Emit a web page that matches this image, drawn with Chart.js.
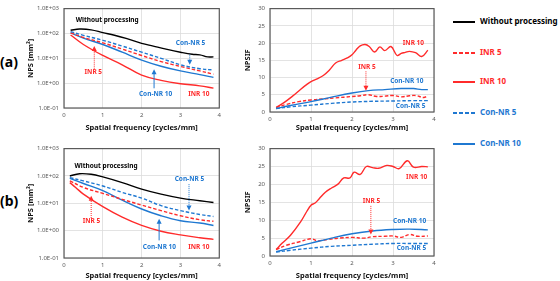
<!DOCTYPE html>
<html>
<head>
<meta charset="utf-8">
<script src="https://cdn.jsdelivr.net/npm/chart.js@4"></script>
<style>
  body { margin: 0; background: #fff; width: 560px; height: 281px; position: relative; overflow: hidden; font-family: "Noto Sans", sans-serif; }
  .box { position: absolute; }
  .tag { position: absolute; left: 0; font-weight: bold; font-size: 14px; line-height: 16px; }
  .leg { position: absolute; left: 453px; font-size: 8px; font-weight: bold; line-height: 10px; height: 10px; white-space: nowrap; }
  .leg span { display: inline-block; width: 22px; height: 2px; margin-right: 5px; vertical-align: middle; }
</style>
</head>
<body>
<div class="tag" style="top:54px">(a)</div>
<div class="tag" style="top:193px">(b)</div>

<div class="box" style="left:20px;top:0;width:205px;height:140px"><canvas id="npsA"></canvas></div>
<div class="box" style="left:235px;top:0;width:205px;height:140px"><canvas id="sifA"></canvas></div>
<div class="box" style="left:20px;top:140px;width:205px;height:141px"><canvas id="npsB"></canvas></div>
<div class="box" style="left:235px;top:140px;width:205px;height:141px"><canvas id="sifB"></canvas></div>

<div id="legend"></div>

<script>
// series names and colours
const names = ["Without processing", "INR 5", "INR 10", "Con-NR 5", "Con-NR 10"];
const RED = "#ff2b2b";
const BLUE = "#1f78d1";

// NPS [mm²], panel (a) — [frequency, value]
const npsA_none = [[0.17,134],[0.4,150],[0.7,140],[1.0,108],[1.3,85],[1.6,63],[2.0,40],[2.3,31],[2.6,24],[3.0,17.6],[3.3,14.5],[3.5,13.8],[3.7,11.4],[3.85,11.4]];
const npsA_inr5 = [[0.17,105],[0.5,69],[1.0,42],[1.5,23.5],[2.0,13],[2.5,7.4],[3.0,4.7],[3.5,3.1],[3.85,2.3]];
const npsA_inr10 = [[0.17,87],[0.5,36],[1.0,13],[1.5,5.5],[2.0,2.1],[2.5,1.3],[3.0,0.95],[3.5,0.78],[3.85,0.63]];
const npsA_con5 = [[0.17,119],[0.5,84],[1.0,53],[1.5,31],[2.0,17.6],[2.5,10],[3.0,5.5],[3.5,3.8],[3.85,3.4]];
const npsA_con10 = [[0.17,105],[0.5,65],[1.0,36],[1.5,17.6],[2.0,8.5],[2.5,4.8],[3.0,3.1],[3.5,2.2],[3.85,1.7]];

// NPS [mm²], panel (b)
const npsB_none = [[0.15,100],[0.4,121],[0.7,115],[1.0,92],[1.5,57],[2.0,33],[2.5,21.6],[3.0,15.5],[3.5,12.4],[3.85,10.7]];
const npsB_inr5 = [[0.15,66],[0.5,38],[1.0,23],[1.5,14],[2.0,8.6],[2.5,5.4],[3.0,3.5],[3.5,2.5],[3.85,2.2]];
const npsB_inr10 = [[0.15,57],[0.3,38],[0.5,21.6],[1.0,7.5],[1.5,3.1],[2.0,1.55],[2.5,0.95],[3.0,0.7],[3.5,0.55],[3.85,0.48]];
const npsB_con5 = [[0.15,87],[0.5,66],[1.0,43],[1.5,25],[2.0,15.5],[2.5,8.2],[3.0,5.4],[3.5,3.9],[3.85,3.3]];
const npsB_con10 = [[0.15,82],[0.5,53],[1.0,29],[1.5,13],[2.0,6.2],[2.5,3.5],[3.0,2.3],[3.5,1.9],[3.85,1.55]];

// NPSIF, panel (a)
const sifA_inr5 = [[0.15,1.3],[0.4,2.2],[0.7,3.0],[1.0,3.5],[1.3,3.8],[1.6,4.1],[2.0,4.5],[2.2,4.7],[2.4,5.0],[2.6,4.5],[2.8,4.6],[3.0,4.8],[3.2,4.4],[3.4,4.7],[3.55,4.8],[3.75,4.2],[3.85,4.8]];
const sifA_inr10 = [[0.15,1.3],[0.35,2.8],[0.55,4.6],[0.75,6.6],[0.9,8.0],[1.0,8.8],[1.15,9.6],[1.3,10.6],[1.45,12.2],[1.6,14.2],[1.75,15.0],[1.9,15.8],[2.0,16.6],[2.1,18.0],[2.2,19.2],[2.32,19.6],[2.42,19.0],[2.55,17.4],[2.68,18.9],[2.8,17.8],[2.95,19.0],[3.1,16.4],[3.2,17.0],[3.3,17.3],[3.4,17.6],[3.55,17.2],[3.7,16.1],[3.85,17.9]];
const sifA_con5 = [[0.15,1.0],[0.5,1.5],[1.0,2.0],[1.5,2.5],[2.0,2.9],[2.5,3.1],[3.0,3.2],[3.5,3.3],[3.85,3.3]];
const sifA_con10 = [[0.15,1.0],[0.5,1.9],[1.0,3.0],[1.5,4.3],[2.0,5.5],[2.4,6.2],[2.8,6.5],[3.2,6.8],[3.5,6.8],[3.7,6.5],[3.85,6.5]];

// NPSIF, panel (b)
const sifB_inr5 = [[0.15,1.8],[0.4,3.0],[0.7,3.9],[1.0,4.8],[1.15,4.3],[1.4,4.6],[1.7,5.0],[2.0,5.2],[2.3,5.0],[2.5,5.4],[2.8,5.5],[3.0,5.6],[3.2,5.2],[3.4,6.0],[3.6,5.5],[3.85,5.6]];
const sifB_inr10 = [[0.15,1.8],[0.3,3.6],[0.5,5.8],[0.75,9.6],[0.9,12.5],[1.0,14.2],[1.1,14.8],[1.2,16.0],[1.35,17.8],[1.5,19.0],[1.65,20.0],[1.8,21.8],[1.95,21.8],[2.05,23.4],[2.2,22.8],[2.35,25.0],[2.5,24.7],[2.65,24.5],[2.85,25.3],[3.0,25.0],[3.15,24.4],[3.35,26.6],[3.5,24.8],[3.7,25.0],[3.85,24.9]];
const sifB_con5 = [[0.15,1.1],[0.5,1.6],[1.0,2.2],[1.5,2.7],[2.0,3.0],[2.5,3.3],[3.0,3.5],[3.5,3.5],[3.85,3.5]];
const sifB_con10 = [[0.15,1.2],[0.5,2.2],[1.0,3.6],[1.5,5.0],[2.0,6.2],[2.5,7.0],[3.0,7.4],[3.4,7.5],[3.85,7.3]];

const logTicks = [0.1, 1, 10, 100, 1000];
const freqTicks = [0, 1, 2, 3, 4];

// frame + text labels + arrows inside each plot
const decor = {
  id: "decor",
  afterDatasetsDraw(chart, args, o) {
    const { ctx, chartArea: a, scales: { x, y } } = chart;
    ctx.save();
    ctx.strokeStyle = "#5a5a5a";
    ctx.lineWidth = 1.2;
    ctx.strokeRect(a.left, a.top, a.width, a.height);
    (o.arrows || []).forEach(r => {
      const px = x.getPixelForValue(r.x);
      const y1 = y.getPixelForValue(r.from), y2 = y.getPixelForValue(r.to);
      const dir = y2 > y1 ? 1 : -1;
      ctx.strokeStyle = r.color;
      ctx.fillStyle = r.color;
      ctx.lineWidth = 1;
      ctx.setLineDash(r.dash || []);
      ctx.beginPath();
      ctx.moveTo(px, y1);
      ctx.lineTo(px, y2 - dir * 4);
      ctx.stroke();
      ctx.setLineDash([]);
      ctx.beginPath();
      ctx.moveTo(px, y2);
      ctx.lineTo(px - 2.5, y2 - dir * 5);
      ctx.lineTo(px + 2.5, y2 - dir * 5);
      ctx.closePath();
      ctx.fill();
    });
    ctx.font = "bold 6.5px 'Noto Sans'";
    ctx.textBaseline = "middle";
    (o.labels || []).forEach(l => {
      ctx.fillStyle = l.color;
      ctx.fillText(l.text, x.getPixelForValue(l.x), y.getPixelForValue(l.y));
    });
    ctx.restore();
  }
};

function line(label, pts, color, dashed) {
  return {
    label, data: pts.map(p => ({ x: p[0], y: p[1] })),
    borderColor: color, borderWidth: 1.4, borderDash: dashed ? [3.5, 2] : [],
    pointRadius: 0, tension: 0.4, fill: false
  };
}

function panel(id, sets, yAxis, yWidth, xHeight, titleBottom, pad, deco) {
  new Chart(document.getElementById(id), {
    type: "line",
    data: { datasets: sets },
    options: {
      responsive: true, maintainAspectRatio: false, animation: false,
      layout: { padding: pad },
      plugins: { legend: { display: false }, tooltip: { enabled: false }, decor: deco },
      scales: {
        x: {
          type: "linear", min: 0, max: 4,
          afterBuildTicks: s => { s.ticks = freqTicks.map(v => ({ value: v })); },
          ticks: { color: "#595959", font: { size: 6 }, padding: 4, maxRotation: 0 },
          grid: { color: "#dcdcdc", drawTicks: false, lineWidth: 0.8 },
          border: { display: false },
          title: { display: true, text: "Spatial frequency [cycles/mm]", color: "#111", font: { size: 7.5, weight: "bold" }, padding: { top: 0, bottom: titleBottom } },
          afterFit: s => { s.height = xHeight; }
        },
        y: Object.assign(yAxis, { afterFit: s => { s.width = yWidth; } })
      }
    },
    plugins: [decor]
  });
}

function npsAxis() {
  return {
    type: "logarithmic", min: 0.1, max: 1000,
    afterBuildTicks: s => { s.ticks = logTicks.map(v => ({ value: v })); },
    ticks: {
      color: "#595959", font: { size: 6 }, padding: 5,
      callback: v => { const e = Math.round(Math.log10(v)); return "1.0E" + (e < 0 ? "-" : "+") + String(Math.abs(e)).padStart(2, "0"); }
    },
    grid: { color: "#dcdcdc", drawTicks: false, lineWidth: 0.8 },
    border: { display: false },
    title: { display: true, text: "NPS [mm²]", color: "#111", font: { size: 7.5, weight: "bold" }, padding: { top: 6.5, bottom: 0 } }
  };
}

function sifAxis() {
  return {
    type: "linear", min: 0, max: 30,
    ticks: { stepSize: 5, color: "#595959", font: { size: 6 }, padding: 5 },
    grid: { color: "#dcdcdc", drawTicks: false, lineWidth: 0.8 },
    border: { display: false },
    title: { display: true, text: "NPSIF", color: "#111", font: { size: 7.5, weight: "bold" }, padding: { top: 8.5, bottom: 0 } }
  };
}

Chart.defaults.font.family = "'Noto Sans', sans-serif";

panel("npsA", [
  line(names[0], npsA_none, "#000", false),
  line(names[3], npsA_con5, BLUE, true),
  line(names[1], npsA_inr5, RED, true),
  line(names[4], npsA_con10, BLUE, false),
  line(names[2], npsA_inr10, RED, false)
], npsAxis(), 44, 32, 7.5, { top: 4, right: 4, left: 0, bottom: 0 }, {
  labels: [
    { text: "Without processing", x: 0.3, y: 340, color: "#000" },
    { text: "Con-NR 5", x: 2.88, y: 40, color: BLUE },
    { text: "INR 5", x: 0.53, y: 2.7, color: RED },
    { text: "Con-NR 10", x: 1.93, y: 0.36, color: BLUE },
    { text: "INR 10", x: 3.2, y: 0.36, color: RED }
  ],
  arrows: [
    { x: 3.24, from: 14, to: 5.5, color: BLUE, dash: [1, 1] },
    { x: 0.78, from: 3.6, to: 31, color: RED, dash: [1, 1] },
    { x: 2.32, from: 0.62, to: 3.6, color: BLUE }
  ]
});

panel("sifA", [
  line(names[3], sifA_con5, BLUE, true),
  line(names[4], sifA_con10, BLUE, false),
  line(names[1], sifA_inr5, RED, true),
  line(names[2], sifA_inr10, RED, false)
], sifAxis(), 35, 28, 7.5, { top: 4, right: 6, left: 0, bottom: 0 }, {
  labels: [
    { text: "INR 10", x: 3.24, y: 20.1, color: RED },
    { text: "INR 5", x: 2.15, y: 13.1, color: RED },
    { text: "Con-NR 10", x: 2.93, y: 9.0, color: BLUE },
    { text: "Con-NR 5", x: 3.07, y: 1.7, color: BLUE }
  ],
  arrows: [{ x: 2.34, from: 11.8, to: 6.2, color: RED, dash: [1, 1] }]
});

panel("npsB", [
  line(names[0], npsB_none, "#000", false),
  line(names[3], npsB_con5, BLUE, true),
  line(names[1], npsB_inr5, RED, true),
  line(names[4], npsB_con10, BLUE, false),
  line(names[2], npsB_inr10, RED, false)
], npsAxis(), 44, 23, 0.5, { top: 7, right: 4, left: 0, bottom: 0 }, {
  labels: [
    { text: "Without processing", x: 0.27, y: 230, color: "#000" },
    { text: "Con-NR 5", x: 2.85, y: 76, color: BLUE },
    { text: "INR 5", x: 0.48, y: 2.3, color: RED },
    { text: "Con-NR 10", x: 2.03, y: 0.26, color: BLUE },
    { text: "INR 10", x: 3.2, y: 0.24, color: RED }
  ],
  arrows: [
    { x: 3.22, from: 50, to: 5.4, color: BLUE, dash: [1, 1] },
    { x: 0.7, from: 2.9, to: 19, color: RED, dash: [1, 1] },
    { x: 2.45, from: 0.44, to: 2.7, color: BLUE }
  ]
});

panel("sifB", [
  line(names[3], sifB_con5, BLUE, true),
  line(names[4], sifB_con10, BLUE, false),
  line(names[1], sifB_inr5, RED, true),
  line(names[2], sifB_inr10, RED, false)
], sifAxis(), 35, 25, 0.5, { top: 7, right: 6, left: 0, bottom: 0 }, {
  labels: [
    { text: "INR 10", x: 3.32, y: 22.1, color: RED },
    { text: "INR 5", x: 2.26, y: 15.4, color: RED },
    { text: "Con-NR 10", x: 3.0, y: 9.6, color: BLUE },
    { text: "Con-NR 5", x: 3.09, y: 2.2, color: BLUE }
  ],
  arrows: [{ x: 2.46, from: 14, to: 6.0, color: RED, dash: [1, 1] }]
});

// legend on the right
const legColors = ["#000", RED, RED, BLUE, BLUE];
const legDashed = [false, true, false, true, false];
const legTop = [16, 47, 76, 107, 138];
const legend = document.getElementById("legend");
names.forEach((n, i) => {
  const d = document.createElement("div");
  d.className = "leg";
  d.style.top = legTop[i] + "px";
  d.style.color = legColors[i];
  const s = document.createElement("span");
  const c = legColors[i];
  s.style.background = legDashed[i]
    ? "repeating-linear-gradient(90deg," + c + " 0 4px,transparent 4px 6px)"
    : c;
  d.appendChild(s);
  d.appendChild(document.createTextNode(n));
  legend.appendChild(d);
});
</script>
</body>
</html>
